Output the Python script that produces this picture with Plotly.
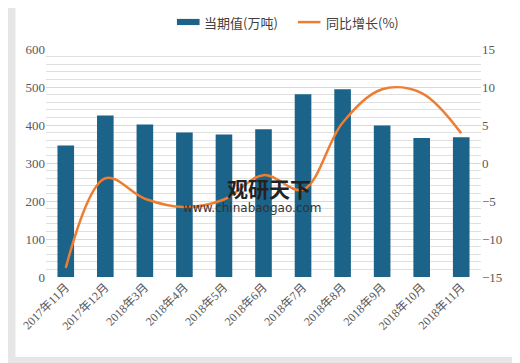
import plotly.graph_objects as go

categories = ["2017年11月", "2017年12月", "2018年3月", "2018年4月", "2018年5月", "2018年6月",
              "2018年7月", "2018年8月", "2018年9月", "2018年10月", "2018年11月"]
volume = [346, 425, 401, 380, 375, 389, 481, 494, 399, 366, 368]
growth = [-13.8, -2.0, -4.7, -5.8, -4.8, -1.6, -3.5, 5.3, 9.7, 9.2, 3.9]

bar_name = "当期值(万吨)"
line_name = "同比增长(%)"

BAR_COLOR = "#1b6388"
LINE_COLOR = "#ed7d31"
FONT = "Liberation Serif, Noto Sans CJK SC, sans-serif"
CJK = "Noto Sans CJK SC, sans-serif"

fig = go.Figure()
fig.add_trace(go.Bar(x=categories, y=volume, name=bar_name, showlegend=False,
                     marker=dict(color=BAR_COLOR, line=dict(width=0)), yaxis="y"))
fig.add_trace(go.Scatter(x=categories, y=growth, name=line_name, mode="lines", showlegend=False,
                         line=dict(color=LINE_COLOR, width=2.5, shape="spline", smoothing=1.0),
                         yaxis="y2"))

fig.update_layout(
    width=512, height=355,
    margin=dict(l=31, r=39, t=41, b=86),
    paper_bgcolor="#e6e6e6",
    plot_bgcolor="#f3f3f3",
    bargap=0.58,
    font=dict(family=FONT, size=12, color="#595959"),
    xaxis=dict(type="category", tickangle=-45, showgrid=False, ticks="", showline=False,
               tickfont=dict(family=FONT, size=12, color="#595959")),
    yaxis=dict(range=[0, 600], dtick=100, showgrid=True, gridcolor="#d9d9d9", gridwidth=1,
               minor=dict(dtick=20, showgrid=True, gridcolor="#e0e0e0", gridwidth=1),
               zeroline=False, ticks="", tickfont=dict(family=FONT, size=13, color="#595959")),
    yaxis2=dict(range=[-15, 15], dtick=5, overlaying="y", side="right", showgrid=False,
                zeroline=False, ticks="", tickfont=dict(family=FONT, size=13, color="#595959")),
    shapes=[
        dict(type="rect", xref="paper", yref="paper", x0=-0.0702, x1=1.0747,
             y0=-0.351, y1=1.18, fillcolor="white", line=dict(width=0), layer="below"),
        dict(type="rect", xref="paper", yref="paper", x0=0.301, x1=0.353, y0=1.105, y1=1.132,
             fillcolor=BAR_COLOR, line=dict(width=0)),
        dict(type="line", xref="paper", yref="paper", x0=0.579, x1=0.631, y0=1.118, y1=1.118,
             line=dict(color=LINE_COLOR, width=2.5)),
    ],
    annotations=[
        dict(text=bar_name, xref="paper", yref="paper", x=0.358, y=1.118, showarrow=False,
             font=dict(family=CJK, size=13, color="#404040"), xanchor="left", yanchor="middle"),
        dict(text=line_name, xref="paper", yref="paper", x=0.638, y=1.118, showarrow=False,
             font=dict(family=CJK, size=13, color="#404040"), xanchor="left", yanchor="middle"),
        dict(text="<b>观研天下</b>", xref="paper", yref="paper", x=0.412, y=0.39,
             showarrow=False, font=dict(family=CJK, size=21, color="#222222"), xanchor="left",
             yanchor="middle"),
        dict(text="www.chinabaogao.com", xref="paper", yref="paper", x=0.31, y=0.303,
             showarrow=False, font=dict(family="DejaVu Sans, sans-serif", size=12, color="#333333"),
             xanchor="left", yanchor="middle"),
    ],
)

fig.write_html("out.html")
